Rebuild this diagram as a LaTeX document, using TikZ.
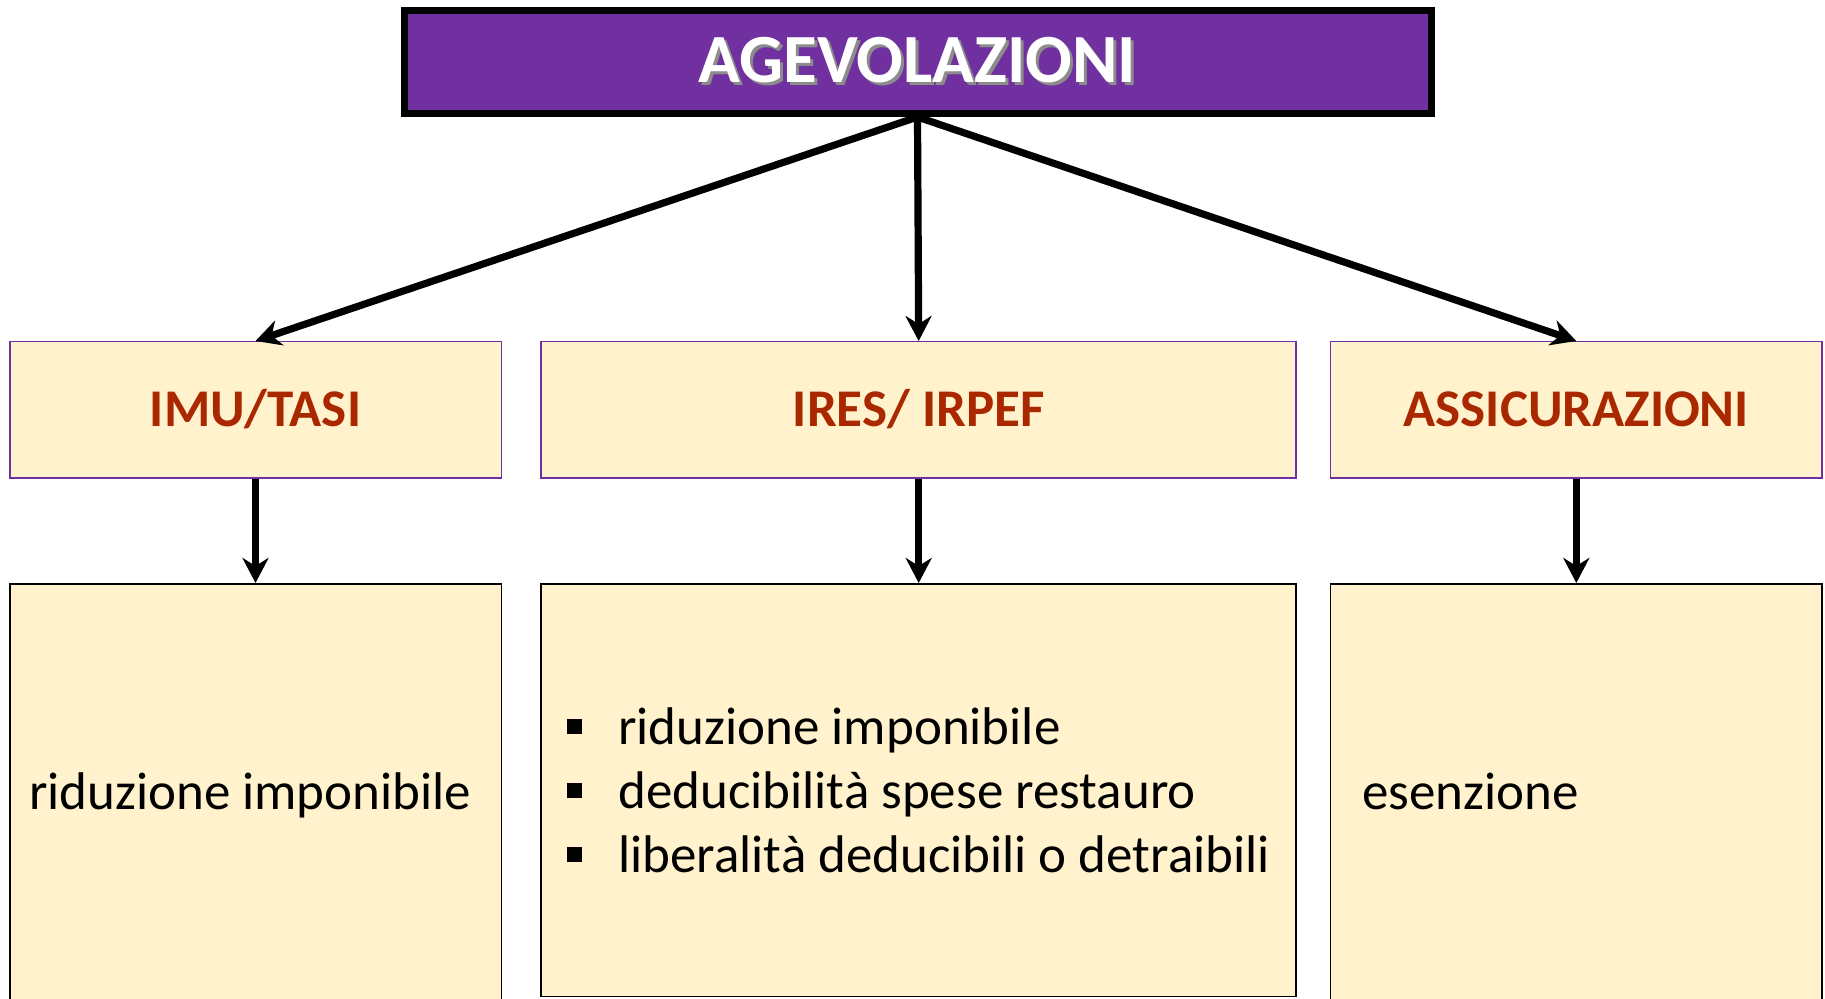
\documentclass[tikz,border=0pt]{standalone}
\usepackage{fontspec}
\setmainfont{Carlito}
\usetikzlibrary{arrows.meta}
\definecolor{viola}{RGB}{112,48,160}
\definecolor{crema}{RGB}{255,242,204}
\definecolor{mattone}{RGB}{170,40,0}
\tikzstyle{titlebox} = [rectangle,draw=black,fill=viola,line width=3.5pt,minimum width=513.5pt,minimum height=51.5pt,inner sep=0pt,font=\bfseries\fontsize{34.5}{40}\selectfont]
\tikzstyle{headbox} = [rectangle,draw=viola,fill=crema,line width=0.75pt,minimum width=245.75pt,minimum height=68.25pt,inner sep=0pt,text=mattone,text height=16.75pt,text depth=0pt,font=\bfseries\fontsize{26.5}{32}\selectfont]
\tikzstyle{infobox} = [rectangle,draw=black,fill=crema,line width=0.75pt,minimum width=245.75pt,minimum height=214.25pt,inner sep=0pt,align=flush left,font=\fontsize{26.5}{32}\selectfont]
\tikzstyle{freccia} = [line width=3.6pt,-{Stealth[length=12.5pt,width=13pt,inset=4pt]}]
\newcommand{\ombra}[1]{\makebox[0pt][l]{\hspace{1.5pt}\raisebox{-1.5pt}{\color{black!45}#1}}\color{white}#1}
\newcommand{\quadretto}{\makebox[25.5pt][l]{\rule[5pt]{7.5pt}{7.5pt}}}

\begin{document}
\begin{tikzpicture}[node distance=174pt]
	\useasboundingbox (0,0) rectangle (912.5pt,-499.5pt);
	\node [titlebox](agev) at (458.75pt,-31pt){\ombra{AGEVOLAZIONI}};
	\node [headbox,below of=agev,xshift=-331pt](imu){IMU/TASI};
	\node [headbox,below of=agev,xshift=0.6pt,minimum width=377.5pt](ires){IRES/ IRPEF};
	\node [headbox,below of=agev,xshift=329.4pt](assic){ASSICURAZIONI};
	\node [infobox,below of=imu,yshift=-20pt,text width=226.5pt,text height=17pt,text depth=6pt](imurid){riduzione imponibile};
	\node [infobox,below of=ires,yshift=-16pt,minimum width=377.5pt,minimum height=206.25pt](iresrid){\quadretto riduzione imponibile\\ \quadretto deducibilità spese restauro\\ \quadretto liberalità deducibili o detraibili};
	\node [infobox,below of=assic,yshift=-20pt,text width=214.25pt,text height=17pt,text depth=6pt](esen){esenzione};

	\draw[freccia](agev.south)--(imu.north);
	\draw[freccia](agev.south)--(ires.north);
	\draw[freccia](agev.south)--(assic.north);
	\draw[freccia](imu.south)--(imurid.north);
	\draw[freccia](ires.south)--(iresrid.north);
	\draw[freccia](assic.south)--(esen.north);
\end{tikzpicture}
\end{document}
